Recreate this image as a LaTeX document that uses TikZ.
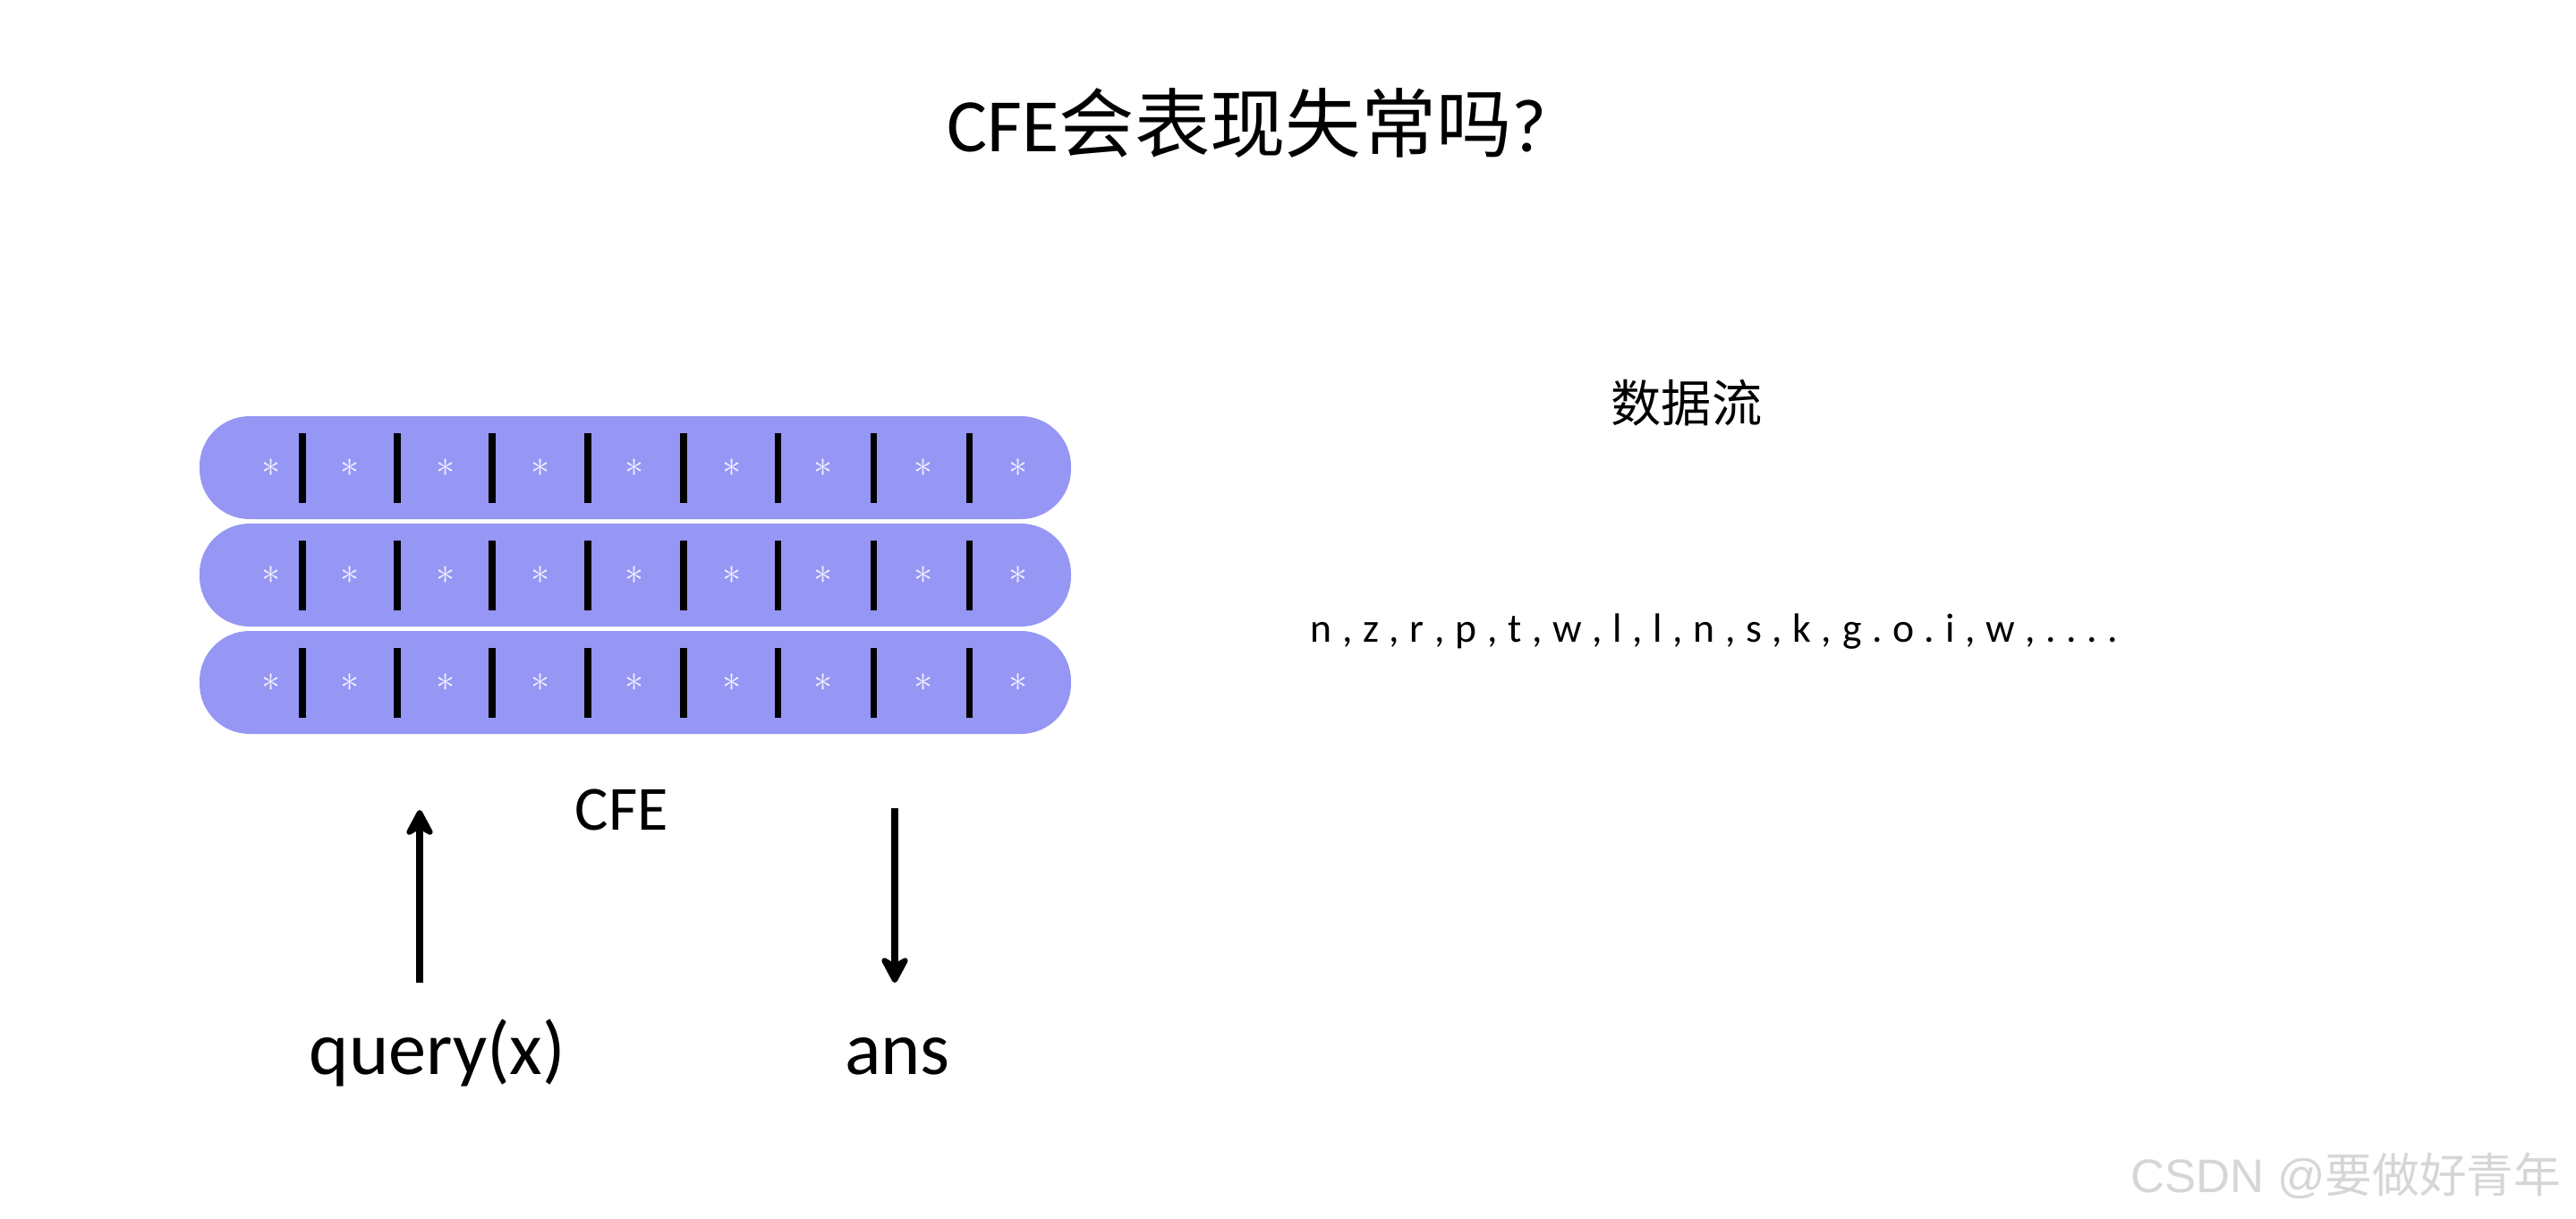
\documentclass[tikz,border=0pt]{standalone}
\usepackage{fontspec}
\setmainfont{Carlito}
\newfontfamily\cjk{Noto Sans CJK SC}
\newfontfamily\wmfont{Liberation Sans}
\usepackage{xcolor,tikz}
\usetikzlibrary{arrows.meta}
\definecolor{cfeblue}{RGB}{150,150,245}
\definecolor{astcol}{RGB}{240,240,255}
\definecolor{wmgray}{RGB}{214,214,214}

\begin{document}
\begin{tikzpicture}[every node/.style={inner sep=0pt},
  cfebar/.style={fill=cfeblue,rounded corners=.56cm,minimum width=9.74cm,minimum height=1.15cm},
  sep/.style={line width=2pt,black},
  astk/.style={text=astcol,font=\fontsize{13}{15}\selectfont},
  flow/.style={line width=2.3pt,-{Stealth[length=.36cm,width=.38cm,inset=.11cm,round]}}]
\useasboundingbox (0,0) rectangle (28.79,13.61);
\node[anchor=base] (title) at (13.94,11.92) {\fontsize{24}{28}\selectfont CFE{\cjk 会表现失常吗}?};
\node[cfebar] (row1) at (7.10,8.385) {};
\node[cfebar] (row2) at (7.10,7.185) {};
\node[cfebar] (row3) at (7.10,5.985) {};
\draw[sep] (3.38,7.995)--(3.38,8.775) (4.44,7.995)--(4.44,8.775) (5.50,7.995)--(5.50,8.775) (6.57,7.995)--(6.57,8.775)
  (7.64,7.995)--(7.64,8.775) (8.69,7.995)--(8.69,8.775) (9.76,7.995)--(9.76,8.775) (10.83,7.995)--(10.83,8.775);
\draw[sep] (3.38,6.795)--(3.38,7.575) (4.44,6.795)--(4.44,7.575) (5.50,6.795)--(5.50,7.575) (6.57,6.795)--(6.57,7.575)
  (7.64,6.795)--(7.64,7.575) (8.69,6.795)--(8.69,7.575) (9.76,6.795)--(9.76,7.575) (10.83,6.795)--(10.83,7.575);
\draw[sep] (3.38,5.595)--(3.38,6.375) (4.44,5.595)--(4.44,6.375) (5.50,5.595)--(5.50,6.375) (6.57,5.595)--(6.57,6.375)
  (7.64,5.595)--(7.64,6.375) (8.69,5.595)--(8.69,6.375) (9.76,5.595)--(9.76,6.375) (10.83,5.595)--(10.83,6.375);
\path (3.03,8.385) node[astk] (t1) {$\ast$} (3.91,8.385) node[astk] (t2) {$\ast$} (4.98,8.385) node[astk] (t3) {$\ast$}
  (6.04,8.385) node[astk] (t4) {$\ast$} (7.09,8.385) node[astk] (t5) {$\ast$} (8.18,8.385) node[astk] (t6) {$\ast$}
  (9.20,8.385) node[astk] (t7) {$\ast$} (10.32,8.385) node[astk] (t8) {$\ast$} (11.38,8.385) node[astk] (t9) {$\ast$};
\path (3.03,7.185) node[astk] (m1) {$\ast$} (3.91,7.185) node[astk] (m2) {$\ast$} (4.98,7.185) node[astk] (m3) {$\ast$}
  (6.04,7.185) node[astk] (m4) {$\ast$} (7.09,7.185) node[astk] (m5) {$\ast$} (8.18,7.185) node[astk] (m6) {$\ast$}
  (9.20,7.185) node[astk] (m7) {$\ast$} (10.32,7.185) node[astk] (m8) {$\ast$} (11.38,7.185) node[astk] (m9) {$\ast$};
\path (3.03,5.985) node[astk] (b1) {$\ast$} (3.91,5.985) node[astk] (b2) {$\ast$} (4.98,5.985) node[astk] (b3) {$\ast$}
  (6.04,5.985) node[astk] (b4) {$\ast$} (7.09,5.985) node[astk] (b5) {$\ast$} (8.18,5.985) node[astk] (b6) {$\ast$}
  (9.20,5.985) node[astk] (b7) {$\ast$} (10.32,5.985) node[astk] (b8) {$\ast$} (11.38,5.985) node[astk] (b9) {$\ast$};
\node[anchor=base] (cfe) at (6.95,4.34) {\fontsize{20}{24}\selectfont CFE};
\node[anchor=base] (query) at (4.89,1.61) {\fontsize{24}{28}\selectfont query(x)};
\node[anchor=base] (ans) at (10.03,1.61) {\fontsize{24}{28}\selectfont ans};
\coordinate (qtail) at (4.69,2.63);
\coordinate (qtip) at (4.69,4.56);
\coordinate (atail) at (10.00,4.58);
\coordinate (atip) at (10.00,2.63);
\draw[flow] (qtail) -- (qtip);
\draw[flow] (atail) -- (atip);
\node (dsl) at (18.85,9.11) {\cjk\fontsize{16}{19}\selectfont 数据流};
\node[anchor=base west] (stream) at (14.64,6.44) {\fontsize{13}{15}\selectfont\frenchspacing\spaceskip=3.3pt n , z , r , p , t , w , l , l , n , s , k , g . o . i , w , . . . .};
\node[anchor=base east,text=wmgray] (mark) at (28.63,0.29) {\fontsize{15}{18}\selectfont\wmfont CSDN @{\cjk 要做好青年}};
\end{tikzpicture}
\end{document}
